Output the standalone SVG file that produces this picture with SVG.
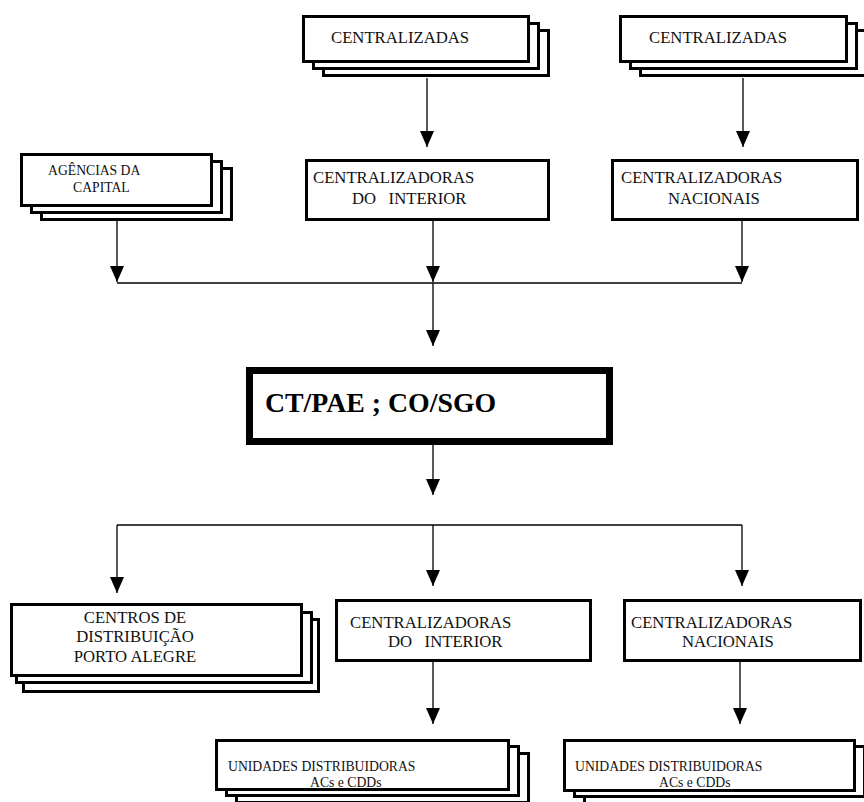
<svg xmlns="http://www.w3.org/2000/svg" width="864" height="802" viewBox="0 0 864 802">
  <defs>
    <!-- filled arrowhead, drawn along +x so orient="auto" points it down the line -->
    <marker id="arrow" markerUnits="userSpaceOnUse" markerWidth="16" markerHeight="14" refX="16" refY="7" orient="auto" viewBox="0 0 16 14">
      <path d="M0,0 L16,7 L0,14 Z" fill="#000"/>
    </marker>
  </defs>
  <style>
    .box { fill: #fff; stroke: #000; stroke-width: 3; }
    .main { fill: #fff; stroke: #000; stroke-width: 7; }
    .t { font-family: "Liberation Serif", "Times New Roman", serif; font-size: 16.7px; fill: #111; white-space: pre; }
    .s { font-size: 13.7px; }
    .big { font-family: "Liberation Serif", "Times New Roman", serif; font-size: 27.8px; font-weight: bold; fill: #000; }
    .ln { fill: none; stroke: #000; stroke-width: 1.3; }
    .ar { marker-end: url(#arrow); }
  </style>

  <rect width="864" height="802" fill="#fff"/>

  <!-- connectors -->
  <g id="connectors">
    <path class="ln ar" d="M427,78 V147"/>
    <path class="ln ar" d="M743,78 V147"/>
    <path class="ln ar" d="M117,221 V282"/>
    <path class="ln ar" d="M433,221 V282"/>
    <path class="ln ar" d="M742,221 V282"/>
    <path class="ln" d="M117,283 H742"/>
    <path class="ln ar" d="M433,283 V346"/>
    <path class="ln ar" d="M433,445 V495"/>
    <path class="ln" d="M117,525 H742"/>
    <path class="ln ar" d="M117,525 V593"/>
    <path class="ln ar" d="M433,525 V586"/>
    <path class="ln ar" d="M742,525 V586"/>
    <path class="ln ar" d="M433,662 V724"/>
    <path class="ln ar" d="M740,662 V724"/>
  </g>

  <!-- top row: stacked sources -->
  <g id="centralizadas-1">
    <rect class="box" x="323.5" y="30.5" width="225" height="45"/>
    <rect class="box" x="313.5" y="23.5" width="225" height="45"/>
    <rect class="box" x="303.5" y="16.5" width="225" height="45"/>
    <text class="t" x="331" y="43">CENTRALIZADAS</text>
  </g>
  <g id="centralizadas-2">
    <rect class="box" x="640.5" y="30.5" width="226" height="45"/>
    <rect class="box" x="630.5" y="23.5" width="226" height="45"/>
    <rect class="box" x="620.5" y="16.5" width="226" height="45"/>
    <text class="t" x="649" y="43">CENTRALIZADAS</text>
  </g>

  <!-- second row -->
  <g id="agencias-capital">
    <rect class="box" x="41.5" y="168.5" width="190" height="51"/>
    <rect class="box" x="31.5" y="161.5" width="190" height="51"/>
    <rect class="box" x="21.5" y="154.5" width="190" height="51"/>
    <text class="t s" x="48" y="175">AGÊNCIAS DA</text>
    <text class="t s" x="73" y="192">CAPITAL</text>
  </g>
  <g id="centralizadoras-interior-1">
    <rect class="box" x="306.5" y="160.5" width="242" height="59"/>
    <text class="t" x="313" y="183">CENTRALIZADORAS</text>
    <text class="t" x="352" y="204">DO   INTERIOR</text>
  </g>
  <g id="centralizadoras-nacionais-1">
    <rect class="box" x="612.5" y="160.5" width="245" height="59"/>
    <text class="t" x="621" y="183">CENTRALIZADORAS</text>
    <text class="t" x="668" y="204">NACIONAIS</text>
  </g>

  <!-- central node -->
  <g id="ct-pae-co-sgo">
    <rect class="main" x="249.5" y="370.5" width="360" height="71"/>
    <text class="big" x="265" y="412">CT/PAE ; CO/SGO</text>
  </g>

  <!-- fourth row -->
  <g id="centros-distribuicao">
    <rect class="box" x="23.5" y="619.5" width="295" height="72"/>
    <rect class="box" x="16.5" y="612.5" width="295" height="70"/>
    <rect class="box" x="11.5" y="604.5" width="290" height="71"/>
    <text class="t" x="135" y="623" text-anchor="middle">CENTROS DE</text>
    <text class="t" x="135" y="642" text-anchor="middle">DISTRIBUIÇÃO</text>
    <text class="t" x="135" y="662" text-anchor="middle">PORTO ALEGRE</text>
  </g>
  <g id="centralizadoras-interior-2">
    <rect class="box" x="336.5" y="600.5" width="254" height="60"/>
    <text class="t" x="350" y="628">CENTRALIZADORAS</text>
    <text class="t" x="388" y="647">DO   INTERIOR</text>
  </g>
  <g id="centralizadoras-nacionais-2">
    <rect class="box" x="624.5" y="600.5" width="236" height="60"/>
    <text class="t" x="631" y="628">CENTRALIZADORAS</text>
    <text class="t" x="682" y="647">NACIONAIS</text>
  </g>

  <!-- bottom row -->
  <g id="unidades-1">
    <rect class="box" x="236.5" y="753.5" width="292" height="49"/>
    <rect class="box" x="226.5" y="746.5" width="292" height="49"/>
    <rect class="box" x="216.5" y="740.5" width="292" height="49"/>
    <text class="t s" x="228" y="771">UNIDADES DISTRIBUIDORAS</text>
    <text class="t s" x="310" y="787">ACs e CDDs</text>
  </g>
  <g id="unidades-2">
    <rect class="box" x="584.5" y="753.5" width="290" height="50"/>
    <rect class="box" x="574.5" y="746.5" width="290" height="50"/>
    <rect class="box" x="564.5" y="740.5" width="290" height="50"/>
    <text class="t s" x="575" y="771">UNIDADES DISTRIBUIDORAS</text>
    <text class="t s" x="659" y="787">ACs e CDDs</text>
  </g>
</svg>
